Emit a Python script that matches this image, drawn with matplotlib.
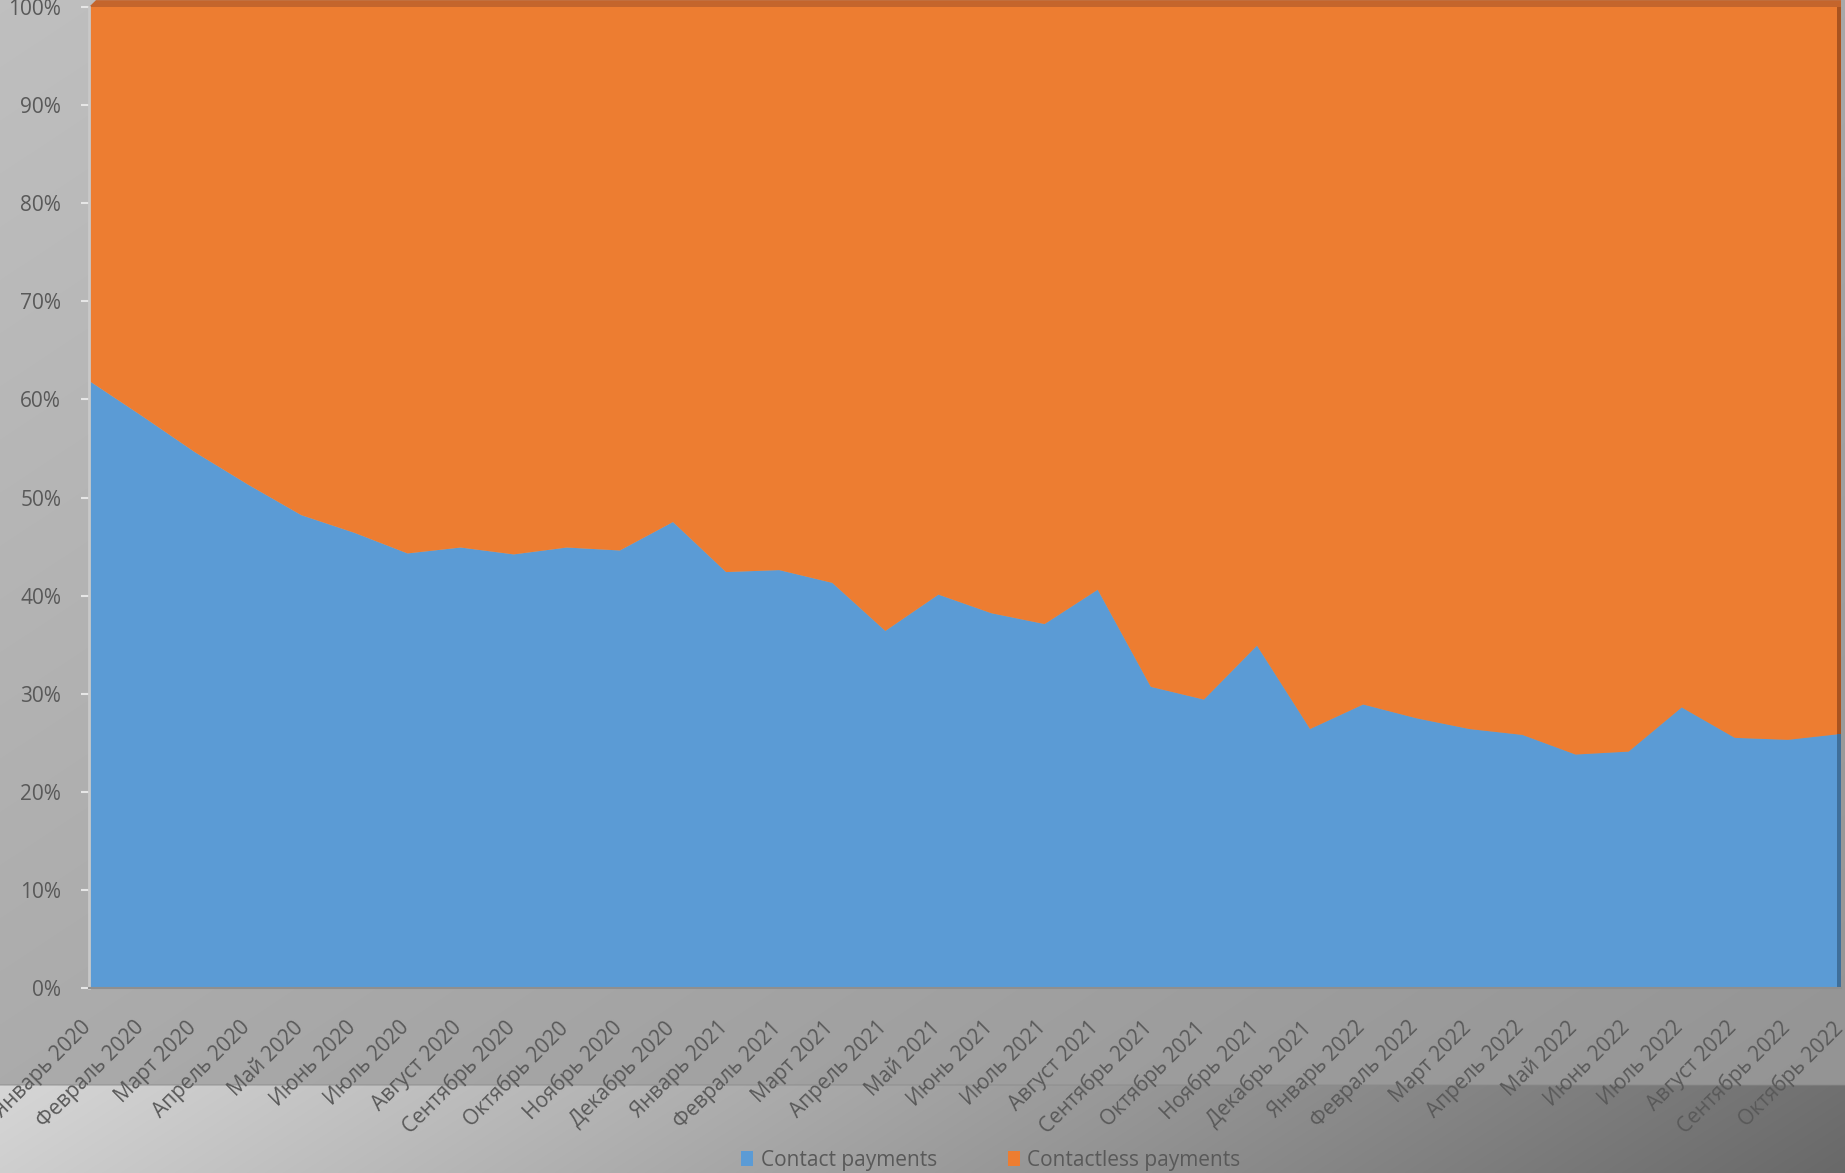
import numpy as np
import matplotlib
matplotlib.use("Agg")
import matplotlib.pyplot as plt
import matplotlib.transforms as mtransforms
from matplotlib.patches import Patch, Polygon

# ---------------- data ----------------
months = [
    "Январь 2020", "Февраль 2020", "Март 2020", "Апрель 2020", "Май 2020", "Июнь 2020",
    "Июль 2020", "Август 2020", "Сентябрь 2020", "Октябрь 2020", "Ноябрь 2020", "Декабрь 2020",
    "Январь 2021", "Февраль 2021", "Март 2021", "Апрель 2021", "Май 2021", "Июнь 2021",
    "Июль 2021", "Август 2021", "Сентябрь 2021", "Октябрь 2021", "Ноябрь 2021", "Декабрь 2021",
    "Январь 2022", "Февраль 2022", "Март 2022", "Апрель 2022", "Май 2022", "Июнь 2022",
    "Июль 2022", "Август 2022", "Сентябрь 2022", "Октябрь 2022",
]
contact = [61.9, 58.3, 54.6, 51.3, 48.2, 46.4, 44.3, 44.9, 44.2, 44.9, 44.6, 47.5,
           42.4, 42.6, 41.3, 36.4, 40.1, 38.2, 37.1, 40.6, 30.7, 29.4, 34.9, 26.4,
           28.9, 27.5, 26.4, 25.8, 23.8, 24.1, 28.6, 25.5, 25.3, 25.9]
contactless = [38.1, 41.7, 45.4, 48.7, 51.8, 53.6, 55.7, 55.1, 55.8, 55.1, 55.4, 52.5,
               57.6, 57.4, 58.7, 63.6, 59.9, 61.8, 62.9, 59.4, 69.3, 70.6, 65.1, 73.6,
               71.1, 72.5, 73.6, 74.2, 76.2, 75.9, 71.4, 74.5, 74.7, 74.1]
series_names = ["Contact payments", "Contactless payments"]
yticks = [0, 10, 20, 30, 40, 50, 60, 70, 80, 90, 100]
ytick_labels = [f"{v}%" for v in yticks]

BLUE = "#5B9BD5"
ORANGE = "#ED7D31"
TXT = "#595959"
FONT = ["Open Sans", "DejaVu Sans"]

W, H = 1845, 1173
fig = plt.figure(figsize=(W / 100, H / 100), dpi=100)

# ---------------- background (concrete-like gradient) ----------------
bg = fig.add_axes([0, 0, 1, 1], zorder=-5)
yy, xx = np.mgrid[0:H, 0:W]
xf = xx / W
split = 1085
upper = 0.75 - 0.09 * xf - 0.08 * (yy / split)
lower = 0.84 - 0.40 * xf - 0.03 * ((yy - split) / (H - split))
img = np.where(yy < split, upper, lower)
img = np.clip(img, 0, 1)
bg.imshow(np.dstack([img, img, img]), extent=[0, W, H, 0], aspect="auto", interpolation="bilinear")
bg.plot([0, W], [split, split], color="#8a8a8a", lw=1.2, alpha=0.5)
bg.set_xlim(0, W)
bg.set_ylim(H, 0)
bg.axis("off")

# ---------------- main area chart ----------------
ax = fig.add_axes([89 / W, 1 - 988 / H, (1841 - 89) / W, (988 - 7) / H])
ax.set_facecolor("none")
x = np.arange(len(months))
tot = np.array(contact) + np.array(contactless)
s1 = np.array(contact) / tot * 100
s2 = np.array(contactless) / tot * 100
ax.stackplot(x, s1, s2, colors=[BLUE, ORANGE], linewidth=0)
ax.set_xlim(0, len(months) - 1)
ax.set_ylim(0, 100)

ax.set_yticks(yticks)
ax.set_yticklabels(ytick_labels, fontsize=15, color=TXT, family=FONT)
ax.tick_params(axis="y", direction="out", length=6, width=1.5, color="#e6e6e6", pad=14)
ax.set_xticks(x)
ax.set_xticklabels(months, rotation=45, ha="right", va="top", rotation_mode="anchor",
                   fontsize=15, color=TXT, family=FONT)
ax.tick_params(axis="x", length=0, pad=16)
offset = mtransforms.ScaledTranslation(-9 / 100, -7 / 100, fig.dpi_scale_trans)
for lab in ax.get_xticklabels():
    lab.set_transform(lab.get_transform() + offset)

for s in ["top", "right"]:
    ax.spines[s].set_visible(False)
ax.spines["left"].set_color("#c8c8c8")
ax.spines["left"].set_linewidth(2)
ax.spines["bottom"].set_color("#8f8f8f")
ax.spines["bottom"].set_linewidth(1.5)

# pseudo-3D depth edges
ax.add_patch(Polygon([(0, 1), (0.004, 1.007), (1, 1.007), (1, 1)], closed=True,
                     transform=ax.transAxes, clip_on=False, color="#c4652c", lw=0))
ax.add_patch(Polygon([(0.998, s1[-1] / 100), (1.0, s1[-1] / 100), (1.0, 1.0), (0.998, 1.0)],
                     closed=True, transform=ax.transAxes, clip_on=False, color="#a9531f", lw=0))
ax.add_patch(Polygon([(0.998, 0), (1.0, 0), (1.0, s1[-1] / 100), (0.998, s1[-1] / 100)],
                     closed=True, transform=ax.transAxes, clip_on=False, color="#3f6f9a", lw=0))

# ---------------- legend ----------------
handles = [Patch(facecolor=BLUE, edgecolor="none"), Patch(facecolor=ORANGE, edgecolor="none")]
leg = fig.legend(handles, series_names, loc="center", bbox_to_anchor=(0.537, 0.011), ncol=2,
                 frameon=False, handlelength=0.6, handleheight=0.7, handletextpad=0.35,
                 columnspacing=3.4, prop={"family": FONT, "size": 15})
for t in leg.get_texts():
    t.set_color(TXT)

fig.savefig("out.png", dpi=100)
